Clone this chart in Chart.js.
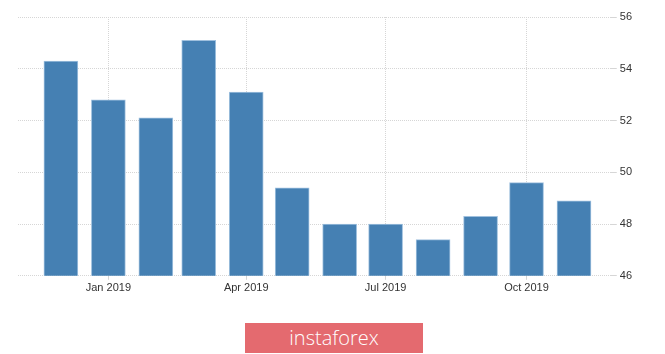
<!DOCTYPE html>
<html>
<head>
<meta charset="utf-8">
<script src="https://cdn.jsdelivr.net/npm/chart.js@4"></script>
<style>
  body { margin: 0; background: #fff; }
  #wrap { position: relative; width: 665px; height: 354px; }
  #chartBox { position: absolute; left: 0; top: 0; width: 665px; height: 297px; }
  #badge {
    position: absolute; left: 245px; top: 323px; width: 178px; height: 30px;
    background: #e46a6f; color: #fff; font: 300 20px 'Open Sans', sans-serif;
    text-align: center; line-height: 29px;
  }
</style>
</head>
<body>
<div id="wrap">
  <div id="chartBox"><canvas id="myChart"></canvas></div>
  <div id="badge">instaforex</div>
</div>
<script>
// monthly readings, Dec 2018 - Nov 2019
const months = ['2018-12', '2019-01', '2019-02', '2019-03', '2019-04', '2019-05',
  '2019-06', '2019-07', '2019-08', '2019-09', '2019-10', '2019-11'];
const values = [54.3, 52.8, 52.1, 55.1, 53.1, 49.4, 48.0, 48.0, 47.4, 48.3, 49.6, 48.9];
const tickMonths = ['2019-01', '2019-04', '2019-07', '2019-10'];
const tickLabels = ['Jan 2019', 'Apr 2019', 'Jul 2019', 'Oct 2019'];
const yTicks = [46, 48, 50, 52, 54, 56];

// days since 1 Jan 2019, so bars sit on a time-like linear axis
const dayOf = (m) => {
  const [y, mo] = m.split('-').map(Number);
  return (Date.UTC(y, mo - 1, 1) - Date.UTC(2019, 0, 1)) / 86400000;
};

const tickDays = tickMonths.map(dayOf);
const points = months.map((m, i) => ({ x: dayOf(m), y: values[i] }));

const ctx = document.getElementById('myChart');

new Chart(ctx, {
  type: 'bar',
  data: {
    datasets: [
      {
        data: points,
        backgroundColor: '#4580b3',
        borderColor: '#9fc0de',
        borderWidth: 1,
        borderSkipped: 'bottom',
        barThickness: 34,
      },
    ],
  },
  options: {
    responsive: true,
    maintainAspectRatio: false,
    animation: false,
    layout: {
      padding: { left: 18, top: 17, right: 30, bottom: 0 },
    },
    scales: {
      x: {
        type: 'linear',
        offset: false,
        min: -59,
        max: 328,
        afterBuildTicks: (axis) => {
          axis.ticks = tickDays.map((v) => ({ value: v }));
        },
        ticks: {
          color: '#333',
          font: { family: 'Liberation Sans', size: 11 },
          padding: 2,
          maxRotation: 0,
          callback: (v) => tickLabels[tickDays.indexOf(v)],
        },
        grid: { color: '#d6d6d6', tickLength: 4, offset: false },
        border: { display: false, dash: [1, 1] },
      },
      y: {
        position: 'right',
        min: 46,
        max: 56,
        afterBuildTicks: (axis) => {
          axis.ticks = yTicks.map((v) => ({ value: v }));
        },
        ticks: {
          color: '#333',
          font: { family: 'Liberation Sans', size: 11 },
          padding: 3,
        },
        grid: { color: '#d6d6d6', tickLength: 6 },
        border: { display: false, dash: [1, 1] },
      },
    },
    plugins: {
      legend: { display: false },
      tooltip: { enabled: false },
    },
  },
});
</script>
</body>
</html>
